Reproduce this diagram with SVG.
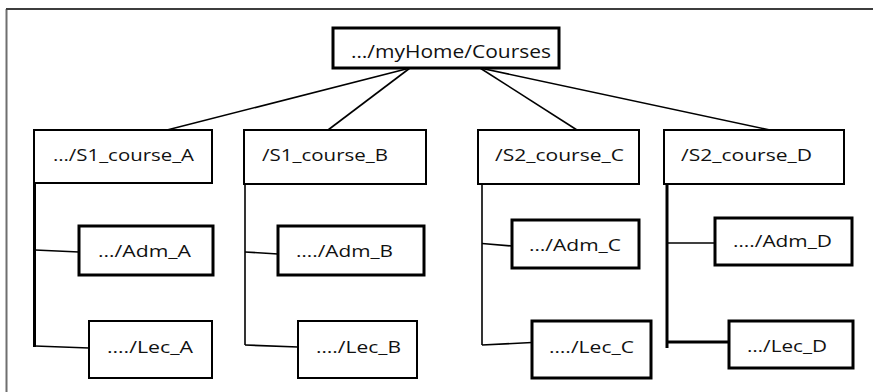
<svg xmlns="http://www.w3.org/2000/svg" width="873" height="392" viewBox="0 0 873 392">
<style>
.box{fill:#fff;stroke:#000;stroke-width:2}
.thick{stroke-width:3}
.t{font-family:"Open Sans","Noto Sans",sans-serif;font-size:17px;fill:#111}
.rt{font-family:"Open Sans","Noto Sans",sans-serif;font-size:19px;fill:#111}
.c{fill:none;stroke:#000;stroke-width:1.6}
.ct{fill:none;stroke:#000;stroke-width:3}
</style>
<rect width="873" height="392" fill="#fff"/>
<g id="frame">
<line x1="6.5" y1="9" x2="6.5" y2="392" stroke="#6f6f6f" stroke-width="2"/>
<line x1="6" y1="9" x2="873" y2="9" stroke="#3d3d3d" stroke-width="2"/>
</g>
<g id="connectors">
<line class="c" x1="410" y1="68" x2="167" y2="130"/>
<line class="c" x1="410" y1="68" x2="328" y2="130"/>
<line class="c" x1="480" y1="68" x2="577" y2="130"/>
<line class="c" x1="480" y1="68" x2="770" y2="130"/>
<polyline class="ct" points="34.5,183 34.5,347"/>
<line class="c" x1="35" y1="250" x2="79" y2="252"/>
<line class="c" x1="35" y1="346" x2="89" y2="348"/>
<polyline class="c" points="245,184 245,345"/>
<line class="c" x1="245" y1="252" x2="278" y2="254"/>
<line class="c" x1="245" y1="345" x2="298" y2="347"/>
<polyline class="c" points="482,184 482,345"/>
<line class="c" x1="482" y1="243.5" x2="512" y2="246"/>
<line class="c" x1="482" y1="345" x2="532" y2="342.5"/>
<polyline class="ct" points="667,184 667,348"/>
<line class="c" x1="667" y1="243" x2="715" y2="243"/>
<line class="ct" x1="667" y1="342" x2="729" y2="342"/>
</g>
<g id="root">
<rect class="box thick" x="333" y="28" width="226" height="40"/>
<text class="rt" x="351" y="58" textLength="200" lengthAdjust="spacingAndGlyphs">…/myHome/Courses</text>
</g>
<g id="s1a">
<rect class="box" x="34" y="130" width="178" height="53"/>
<text class="t" x="53" y="161" textLength="141" lengthAdjust="spacingAndGlyphs">…/S1_course_A</text>
</g>
<g id="s1b">
<rect class="box" x="244" y="130" width="182" height="54"/>
<text class="t" x="262" y="161" textLength="126" lengthAdjust="spacingAndGlyphs">/S1_course_B</text>
</g>
<g id="s2c">
<rect class="box" x="478" y="130" width="161" height="54"/>
<text class="t" x="495" y="161" textLength="129" lengthAdjust="spacingAndGlyphs">/S2_course_C</text>
</g>
<g id="s2d">
<rect class="box" x="664" y="130" width="180" height="54"/>
<text class="t" x="681" y="161" textLength="131" lengthAdjust="spacingAndGlyphs">/S2_course_D</text>
</g>
<g id="adm_a">
<rect class="box thick" x="79" y="226" width="134" height="49"/>
<text class="t" x="98" y="257" textLength="93" lengthAdjust="spacingAndGlyphs">…/Adm_A</text>
</g>
<g id="adm_b">
<rect class="box thick" x="278" y="226" width="146" height="49"/>
<text class="t" x="296" y="257" textLength="97" lengthAdjust="spacingAndGlyphs">…./Adm_B</text>
</g>
<g id="adm_c">
<rect class="box thick" x="512" y="220" width="127" height="48"/>
<text class="t" x="529" y="251" textLength="92" lengthAdjust="spacingAndGlyphs">…/Adm_C</text>
</g>
<g id="adm_d">
<rect class="box thick" x="715" y="218" width="137" height="47"/>
<text class="t" x="733" y="247" textLength="99" lengthAdjust="spacingAndGlyphs">…./Adm_D</text>
</g>
<g id="lec_a">
<rect class="box" x="89" y="321" width="123" height="57"/>
<text class="t" x="107" y="353" textLength="86" lengthAdjust="spacingAndGlyphs">…./Lec_A</text>
</g>
<g id="lec_b">
<rect class="box" x="298" y="321" width="119" height="57"/>
<text class="t" x="316" y="353" textLength="85" lengthAdjust="spacingAndGlyphs">…./Lec_B</text>
</g>
<g id="lec_c">
<rect class="box thick" x="532" y="321" width="119" height="57"/>
<text class="t" x="549" y="353" textLength="85" lengthAdjust="spacingAndGlyphs">…./Lec_C</text>
</g>
<g id="lec_d">
<rect class="box thick" x="729" y="321" width="124" height="47"/>
<text class="t" x="747" y="352" textLength="80" lengthAdjust="spacingAndGlyphs">…/Lec_D</text>
</g>
</svg>
